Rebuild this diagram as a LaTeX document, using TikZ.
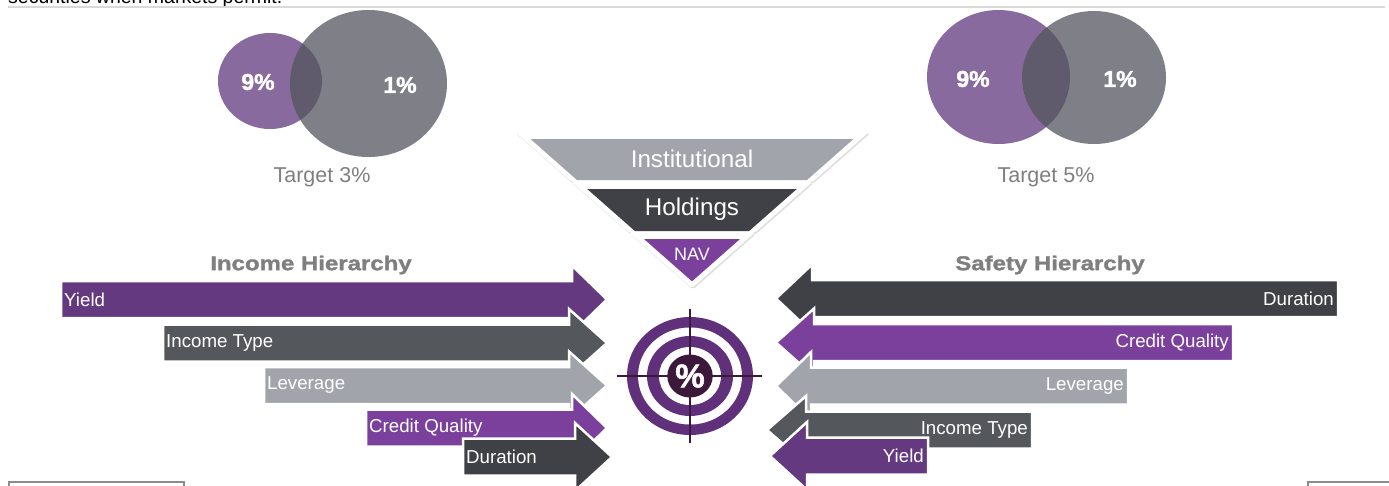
\documentclass[tikz,border=0pt]{standalone}
\usepackage{fontspec}
\setmainfont{Liberation Sans}
\newfontfamily\gruesa[FakeStretch=1.2,FakeBold=1.5]{Liberation Sans Bold}
\newfontfamily\cifras[FakeBold=1.5]{Liberation Sans Bold}
\usetikzlibrary{shapes,arrows,positioning,shadows}
\definecolor{moradoosc}{RGB}{100,57,128}
\definecolor{moradocla}{RGB}{123,63,156}
\definecolor{grisosc}{RGB}{63,65,70}
\definecolor{grismed}{RGB}{84,87,92}
\definecolor{griscla}{RGB}{161,164,170}
\definecolor{vennmorado}{RGB}{137,106,158}
\definecolor{venngris}{RGB}{127,128,135}
\definecolor{venncruce}{RGB}{95,90,108}
\definecolor{diana}{RGB}{96,48,122}
\definecolor{dianacentro}{RGB}{60,25,58}
\definecolor{titulogris}{RGB}{127,127,127}
\tikzstyle{flecha} = [draw=white, line width=2.5pt, line join=miter]
\tikzstyle{etiqueta} = [text=white, font=\fontsize{18.7}{20}\selectfont, inner sep=3pt]
\tikzstyle{titulo} = [text=titulogris, font=\gruesa\fontsize{20}{22}\selectfont]
\tikzstyle{cifra} = [text=white, font=\cifras\fontsize{23}{25}\selectfont]
\tikzstyle{meta} = [text=titulogris, font=\fontsize{21.5}{23}\selectfont]
\tikzstyle{embudo} = [fill=white, rounded corners=2pt, drop shadow={shadow xshift=1pt, shadow yshift=-1.5pt, opacity=0.25}]
\tikzstyle{embudotexto} = [text=white, font=\fontsize{24.2}{26}\selectfont]
\tikzstyle{mira} = [draw=dianacentro, line width=2pt]
\tikzstyle{raya} = [draw=black!15, line width=1.5pt]
\tikzstyle{caja} = [draw=black!45, line width=1.2pt]
\newcommand{\flechader}[7]{%
  \filldraw[flecha, fill=#6] (#2,#3-18.5) -- (#4,#3-18.5) -- (#4,#3-34) -- (#5,#3) -- (#4,#3+34) -- (#4,#3+18.5) -- (#2,#3+18.5) -- cycle;
  \node[etiqueta, anchor=west] (#1) at (#2,#3) {#7};}
\newcommand{\flechaizq}[7]{%
  \filldraw[flecha, fill=#6] (#2,#3-18.5) -- (#4,#3-18.5) -- (#4,#3-34) -- (#5,#3) -- (#4,#3+34) -- (#4,#3+18.5) -- (#2,#3+18.5) -- cycle;
  \node[etiqueta, anchor=east, inner sep=4pt] (#1) at (#2,#3) {#7};}
\begin{document}
\begin{tikzpicture}[x=1pt,y=-1pt]
\useasboundingbox (0,0) rectangle (1389,485);
\clip (0,0) rectangle (1389,485);
\node[anchor=base west, inner sep=0pt, font=\fontsize{19.5}{22}\selectfont] (encabezado) at (8,3.5) {securities when markets permit.};
\draw[raya] (8,7) -- (1385,7);
% venn izquierdo
\fill[vennmorado] (270,81) ellipse [x radius=52, y radius=48];
\fill[venngris] (368.5,83.5) ellipse [x radius=78.5, y radius=73.5];
\begin{scope}
  \clip (270,81) ellipse [x radius=52, y radius=48];
  \fill[venncruce] (368.5,83.5) ellipse [x radius=78.5, y radius=73.5];
\end{scope}
\node[cifra] (nueveA) at (258,82) {9\%};
\node[cifra] (unoA) at (400,85) {1\%};
\node[meta] (metaA) at (322,177) {Target 3\%};
% venn derecho
\fill[vennmorado] (998.5,77) ellipse [x radius=71.5, y radius=67];
\fill[venngris] (1094,77.5) ellipse [x radius=72, y radius=66.5];
\begin{scope}
  \clip (998.5,77) ellipse [x radius=71.5, y radius=67];
  \fill[venncruce] (1094,77.5) ellipse [x radius=72, y radius=66.5];
\end{scope}
\node[cifra] (nueveB) at (973,79) {9\%};
\node[cifra] (unoB) at (1120,79) {1\%};
\node[meta] (metaB) at (1046,177) {Target 5\%};
% embudo
\fill[embudo] (515,132) -- (869,132) -- (812.3,182) -- (571.7,182) -- cycle;
\fill[griscla] (530.5,139) -- (853.5,139) -- (807,180) -- (577,180) -- cycle;
\node[embudotexto] (institucional) at (692,159) {Institutional};
\fill[embudo] (571.7,182) -- (812.3,182) -- (754.4,233) -- (629.6,233) -- cycle;
\fill[grisosc] (587.2,189) -- (796.8,189) -- (749.1,231) -- (634.9,231) -- cycle;
\node[embudotexto] (holdings) at (692,209) {Holdings};
\fill[embudo] (629.6,233) -- (754.4,233) -- (692,288) -- cycle;
\fill[moradocla] (644,239) -- (740,239) -- (692,281.3) -- cycle;
\node[embudotexto, font=\fontsize{18}{20}\selectfont] (nav) at (692,254) {NAV};
% titulos
\node[titulo] (ingreso) at (311,265) {Income Hierarchy};
\node[titulo] (seguridad) at (1050,265) {Safety Hierarchy};
% flechas izquierda
\flechader{ingYield}{61}{299.5}{572}{607}{moradoosc}{Yield}
\flechader{ingTipo}{163}{343}{569}{607}{grismed}{Income Type}
\flechader{ingLev}{264}{385.5}{569}{607}{griscla}{Leverage}
\flechader{ingCredito}{366}{428}{572}{607}{moradocla}{Credit Quality}
\flechader{ingDuracion}{463}{457}{575}{612}{grisosc}{Duration}
% flechas derecha
\flechaizq{segDuracion}{1338}{298.5}{812}{776}{grisosc}{Duration}
\flechaizq{segCredito}{1233}{342.5}{814}{776}{moradocla}{Credit Quality}
\flechaizq{segLev}{1128}{386}{811}{776}{griscla}{Leverage}
\flechaizq{segTipo}{1032}{430}{806}{767}{grismed}{Income Type}
\flechaizq{segYield}{928}{456}{807}{770}{moradoosc}{Yield}
% diana
\fill[diana] (690,376) ellipse [x radius=63, y radius=59];
\fill[white] (690,376) ellipse [x radius=52, y radius=48.5];
\fill[diana] (690,376) ellipse [x radius=43, y radius=40];
\fill[white] (690,376) ellipse [x radius=31, y radius=29];
\draw[mira] (617,376) -- (762,376);
\draw[mira] (690,309) -- (690,443);
\fill[dianacentro] (690,376) ellipse [x radius=22.7, y radius=21.5];
\node[text=white, font=\cifras\fontsize{33}{35}\selectfont] (porcentaje) at (690,376) {\%};
% cajas inferiores
\draw[caja] (9,490) |- (184,482) -- (184,490);
\draw[caja] (1308,490) |- (1395,482);
\end{tikzpicture}
\end{document}
